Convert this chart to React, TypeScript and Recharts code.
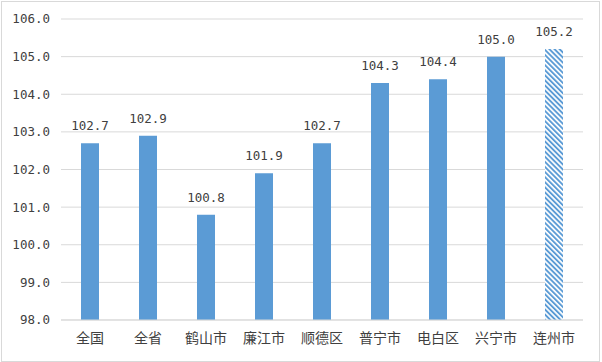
import React from "react";
import { BarChart, Bar, XAxis, YAxis, CartesianGrid, Cell, LabelList } from "recharts";

const categories = ["全国", "全省", "鹤山市", "廉江市", "顺德区", "普宁市", "电白区", "兴宁市", "连州市"];
const values = [102.7, 102.9, 100.8, 101.9, 102.7, 104.3, 104.4, 105.0, 105.2];
const striped = [false, false, false, false, false, false, false, false, true];
const yTicks = [98, 99, 100, 101, 102, 103, 104, 105, 106];

const data = categories.map((name, i) => ({ name, value: values[i], striped: striped[i] }));

const BLUE = "#5B9BD5";
const GRID = "#D9D9D9";
const NUM_FONT = "'DejaVu Sans Mono', monospace";
const CJK_FONT = "'Noto Sans CJK SC', sans-serif";

export default function App() {
  return (
    <div style={{ position: "absolute", left: 0, top: 0, width: 602, height: 362, background: "#fff" }}>
      <div
        style={{
          position: "absolute",
          left: 1,
          top: 1,
          width: 599,
          height: 361,
          border: `1px solid ${GRID}`,
          boxSizing: "border-box",
        }}
      />
      <div style={{ position: "absolute", left: 0, top: 0 }}>
        <BarChart
          width={602}
          height={362}
          data={data}
          margin={{ top: 19, right: 19, bottom: 0, left: 0 }}
          barSize={18}
        >
          <defs>
            <pattern
              id="stripes"
              patternUnits="userSpaceOnUse"
              width={3.6}
              height={3.6}
              patternTransform="rotate(-45)"
            >
              <rect x={0} y={0} width={3.6} height={3.6} fill="#fff" />
              <rect x={0} y={0} width={1.9} height={3.6} fill={BLUE} />
            </pattern>
          </defs>
          <CartesianGrid vertical={false} stroke={GRID} strokeWidth={1} />
          <XAxis
            dataKey="name"
            height={42}
            tickLine={false}
            tickSize={0}
            tickMargin={13}
            axisLine={{ stroke: GRID }}
            tick={{ fill: "#404040", fontSize: 14, fontFamily: CJK_FONT }}
            interval={0}
          />
          <YAxis
            width={61}
            domain={[98, 106]}
            ticks={yTicks}
            tickFormatter={(v: number) => v.toFixed(1)}
            axisLine={false}
            tickLine={false}
            tickSize={0}
            tickMargin={11}
            tick={{ fill: "#404040", fontSize: 12.5, fontFamily: NUM_FONT }}
            interval={0}
          />
          <Bar dataKey="value" isAnimationActive={false}>
            {data.map((d, i) => (
              <Cell key={i} fill={d.striped ? "url(#stripes)" : BLUE} />
            ))}
            <LabelList
              dataKey="value"
              position="top"
              offset={13}
              formatter={(v: number) => v.toFixed(1)}
              style={{ fill: "#404040", fontSize: 12.5, fontFamily: NUM_FONT }}
            />
          </Bar>
        </BarChart>
      </div>
    </div>
  );
}
